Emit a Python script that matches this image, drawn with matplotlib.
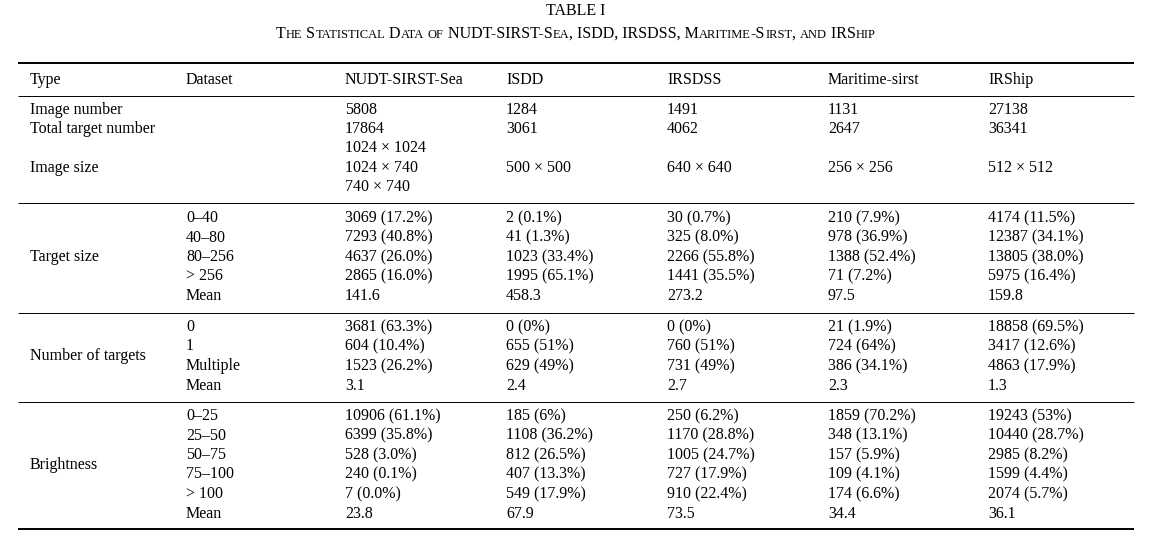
import matplotlib
matplotlib.use("Agg")
import matplotlib.pyplot as plt

columns = ["Type", "Dataset", "NUDT-SIRST-Sea", "ISDD", "IRSDSS", "Maritime-sirst", "IRShip"]
col_x = [30, 186, 345, 506, 667, 828, 988]

image_number = ["5808", "1284", "1491", "1131", "27138"]
total_targets = ["17864", "3061", "4062", "2647", "36341"]
image_size = [["1024 × 1024", "1024 × 740", "740 × 740"], ["500 × 500"], ["640 × 640"], ["256 × 256"], ["512 × 512"]]

size_bins = ["0–40", "40–80", "80–256", "> 256", "Mean"]
size_vals = [
    ["3069 (17.2%)", "2 (0.1%)", "30 (0.7%)", "210 (7.9%)", "4174 (11.5%)"],
    ["7293 (40.8%)", "41 (1.3%)", "325 (8.0%)", "978 (36.9%)", "12387 (34.1%)"],
    ["4637 (26.0%)", "1023 (33.4%)", "2266 (55.8%)", "1388 (52.4%)", "13805 (38.0%)"],
    ["2865 (16.0%)", "1995 (65.1%)", "1441 (35.5%)", "71 (7.2%)", "5975 (16.4%)"],
    ["141.6", "458.3", "273.2", "97.5", "159.8"],
]
num_bins = ["0", "1", "Multiple", "Mean"]
num_vals = [
    ["3681 (63.3%)", "0 (0%)", "0 (0%)", "21 (1.9%)", "18858 (69.5%)"],
    ["604 (10.4%)", "655 (51%)", "760 (51%)", "724 (64%)", "3417 (12.6%)"],
    ["1523 (26.2%)", "629 (49%)", "731 (49%)", "386 (34.1%)", "4863 (17.9%)"],
    ["3.1", "2.4", "2.7", "2.3", "1.3"],
]
bright_bins = ["0–25", "25–50", "50–75", "75–100", "> 100", "Mean"]
bright_vals = [
    ["10906 (61.1%)", "185 (6%)", "250 (6.2%)", "1859 (70.2%)", "19243 (53%)"],
    ["6399 (35.8%)", "1108 (36.2%)", "1170 (28.8%)", "348 (13.1%)", "10440 (28.7%)"],
    ["528 (3.0%)", "812 (26.5%)", "1005 (24.7%)", "157 (5.9%)", "2985 (8.2%)"],
    ["240 (0.1%)", "407 (13.3%)", "727 (17.9%)", "109 (4.1%)", "1599 (4.4%)"],
    ["7 (0.0%)", "549 (17.9%)", "910 (22.4%)", "174 (6.6%)", "2074 (5.7%)"],
    ["23.8", "67.9", "73.5", "34.4", "36.1"],
]

plt.rcParams['font.family'] = ['Liberation Serif', 'DejaVu Serif']
FS = 11.5
fig = plt.figure(figsize=(11.52, 5.34), dpi=100)
ax = fig.add_axes([0, 0, 1, 1])
ax.set_xlim(0, 1152); ax.set_ylim(534, 0); ax.axis('off')

def t(x, y, s, **kw):
    ax.text(x, y, s, fontsize=FS, va='center', ha='left', **kw)

ax.text(576, 11, "TABLE I", fontsize=FS, ha='center', va='center')

# small caps subtitle
sub = "The Statistical Data of NUDT-SIRST-Sea, ISDD, IRSDSS, Maritime-Sirst, and IRShip"
runs = []
for ch in sub:
    small = ch.islower()
    if runs and runs[-1][1] == small:
        runs[-1][0] += ch
    else:
        runs.append([ch, small])
fig.canvas.draw()
r = fig.canvas.get_renderer()
objs = []
for s, small in runs:
    o = ax.text(0, 33, s.upper(), fontsize=FS * (0.78 if small else 1.0), ha='left', va='baseline')
    objs.append(o)
widths = [o.get_window_extent(r).width for o in objs]
x = 576 - sum(widths) / 2
for o, w in zip(objs, widths):
    o.set_x(x); o.set_y(38); x += w

def rule(y, lw):
    ax.plot([18, 1134], [y, y], color='black', lw=lw, solid_capstyle='butt')

rule(63, 1.4); rule(96, 0.7); rule(203, 0.7); rule(313, 0.7); rule(402, 0.7); rule(529, 1.4)

for cx, c in zip(col_x, columns):
    t(cx, 80, c)

t(col_x[0], 110, "Image number")
t(col_x[0], 129, "Total target number")
t(col_x[0], 168, "Image size")
for i in range(5):
    t(col_x[2 + i], 110, image_number[i])
    t(col_x[2 + i], 129, total_targets[i])
    sz = image_size[i]
    if len(sz) == 3:
        for j, s in enumerate(sz):
            t(col_x[2 + i], 148 + j * 19.5, s)
    else:
        t(col_x[2 + i], 168, sz[0])

def block(label, bins, vals, y0, step=19.5):
    ys = [y0 + k * step for k in range(len(bins))]
    t(col_x[0], (ys[0] + ys[-1]) / 2 if len(bins) % 2 else (ys[len(bins)//2 - 1] + ys[len(bins)//2]) / 2 - 0, label)
    for y, b, row in zip(ys, bins, vals):
        t(col_x[1], y, b)
        for i, v in enumerate(row):
            t(col_x[2 + i], y, v)

block("Target size", size_bins, size_vals, 218)
block("Number of targets", num_bins, num_vals, 327)
block("Brightness", bright_bins, bright_vals, 416)

fig.savefig("out.png", dpi=100)
